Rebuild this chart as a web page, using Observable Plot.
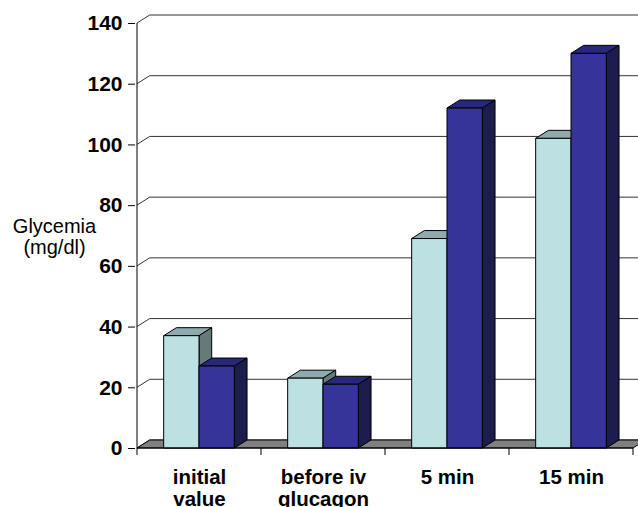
<!DOCTYPE html>
<html>
<head>
<meta charset="utf-8">
<script src="https://cdn.jsdelivr.net/npm/d3@7"></script>
<script src="https://cdn.jsdelivr.net/npm/@observablehq/plot@0.6"></script>
<style>
  html, body { margin: 0; padding: 0; background: #fff; overflow: hidden; }
</style>
</head>
<body>
<div id="chart"></div>
<script>
// ---- data ----
const categories = ["initial\nvalue", "before iv\nglucagon", "5 min", "15 min"];
const seriesLight = [37, 23, 69, 102];
const seriesDark = [27, 21, 112, 130];
const yTicks = [0, 20, 40, 60, 80, 100, 120, 140];
const yTitle = "Glycemia\n(mg/dl)";

// ---- styling ----
const depth = {dx: 12.7, dy: -8};
const lightColors = {front: "#bde0e3", top: "#8eaaad", side: "#667a7a"};
const darkColors = {front: "#363399", top: "#28287a", side: "#1c1c4e"};
const gridColor = "#333";

function scene(index, scales, values, dimensions) {
  const x = scales.x, y = scales.y;
  const {width, marginLeft, marginRight} = dimensions;
  const bw = typeof x.bandwidth === "function" ? x.bandwidth() : (x(categories[1]) - x(categories[0]));
  const xStart = x(categories[0]);
  const xEnd = x(categories[categories.length - 1]) + bw;
  const y0 = y(0);
  const {dx, dy} = depth;
  const g = d3.create("svg:g");

  // back-wall gridlines
  for (const t of yTicks) {
    const yy = y(t);
    g.append("path")
      .attr("d", `M${xStart},${yy}L${xStart + dx},${yy + dy}L${width},${yy + dy}`)
      .attr("fill", "none").attr("stroke", gridColor).attr("stroke-width", 1);
  }

  // floor
  g.append("path")
    .attr("d", `M${xStart},${y0}L${xStart + dx},${y0 + dy}L${xEnd + dx},${y0 + dy}L${xEnd},${y0}Z`)
    .attr("fill", "#808080").attr("stroke", "#000").attr("stroke-width", 1);

  // bars
  const barW = bw * 0.285;
  function bar3d(x0, x1, v, col) {
    const yv = y(v);
    const bg = g.append("g").attr("stroke", "#000").attr("stroke-width", 1).attr("stroke-linejoin", "round");
    bg.append("path").attr("fill", col.top)
      .attr("d", `M${x0},${yv}L${x0 + dx},${yv + dy}L${x1 + dx},${yv + dy}L${x1},${yv}Z`);
    bg.append("path").attr("fill", col.side)
      .attr("d", `M${x1},${yv}L${x1 + dx},${yv + dy}L${x1 + dx},${y0 + dy}L${x1},${y0}Z`);
    bg.append("rect").attr("fill", col.front)
      .attr("x", x0).attr("y", yv).attr("width", x1 - x0).attr("height", y0 - yv);
  }
  categories.forEach((c, i) => {
    const cx = x(c) + bw / 2;
    bar3d(cx - barW, cx, seriesLight[i], lightColors);
    bar3d(cx, cx + barW, seriesDark[i], darkColors);
  });

  // axes lines and x ticks
  g.append("line").attr("x1", xStart).attr("x2", xStart).attr("y1", y(yTicks[yTicks.length - 1])).attr("y2", y0 + 7)
    .attr("stroke", "#000");
  g.append("line").attr("x1", xStart).attr("x2", xEnd).attr("y1", y0).attr("y2", y0).attr("stroke", "#000");
  categories.forEach((c) => {
    const xe = x(c) + bw;
    g.append("line").attr("x1", xe).attr("x2", xe).attr("y1", y0).attr("y2", y0 + 7).attr("stroke", "#000");
  });
  return g.node();
}

const chart = Plot.plot({
  width: 638,
  height: 507,
  marginLeft: 135,
  marginRight: 4,
  marginTop: 23,
  marginBottom: 59,
  style: {fontFamily: "'Liberation Sans', Arial, sans-serif", fontSize: "20px", fontWeight: "bold", color: "#000", background: "#fff", overflow: "hidden"},
  x: {type: "band", domain: categories, padding: 0, axis: null},
  y: {domain: [0, 140]},
  marks: [
    scene,
    Plot.axisY({ticks: yTicks, tickSize: 7, tickPadding: 6, label: null, fontSize: 21, fontWeight: "bold"}),
    Plot.text(categories, {x: (d) => d, text: (d) => d, frameAnchor: "bottom", lineAnchor: "top", dy: 20, lineHeight: 1.08, fontSize: 20.5, fontWeight: "bold"}),
    Plot.text([yTitle], {text: (d) => d, frameAnchor: "left", dx: -81, dy: 1, textAnchor: "middle", lineAnchor: "middle", lineHeight: 1.05, fontSize: 20, fontWeight: "normal"})
  ]
});
document.getElementById("chart").appendChild(chart);
</script>
</body>
</html>
